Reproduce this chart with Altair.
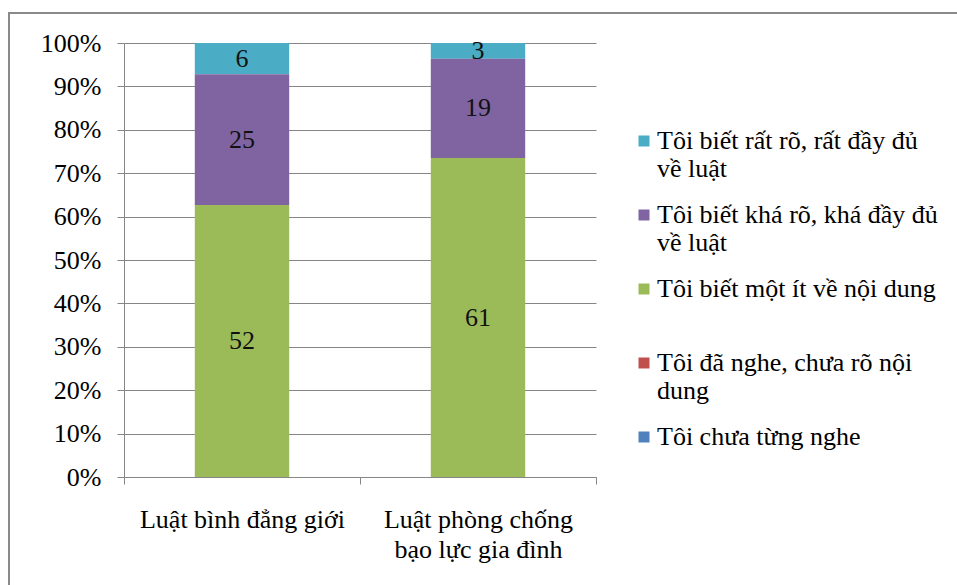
import altair as alt
import pandas as pd

# Awareness levels, listed top to bottom as in the legend
levels = [
    "Tôi biết rất rõ, rất đầy đủ\nvề luật",
    "Tôi biết khá rõ, khá đầy đủ\nvề luật",
    "Tôi biết một ít về nội dung",
    "Tôi đã nghe, chưa rõ nội\ndung",
    "Tôi chưa từng nghe",
]
level_colors = ["#4BACC6", "#8064A2", "#9BBB59", "#C0504D", "#4F81BD"]

laws = ["Luật bình đẳng giới", "Luật phòng chống\nbạo lực gia đình"]

# Counts per level (same order as `levels`)
gender_equality = [6, 25, 52, 0, 0]
domestic_violence = [3, 19, 61, 0, 0]

rows = []
for law, counts in zip(laws, [gender_equality, domestic_violence]):
    for rank, (lvl, n) in enumerate(zip(levels, counts)):
        rows.append({"law": law, "level": lvl, "rank": rank, "count": n})
df = pd.DataFrame(rows)

FONT = "Liberation Serif"
GRID = "#868686"

base = alt.Chart(df).transform_stack(
    stack="count",
    groupby=["law"],
    as_=["v0", "v1"],
    offset="normalize",
    sort=[alt.SortField("rank", order="descending")],
).transform_calculate(mid="(datum.v0 + datum.v1) / 2")

x_enc = alt.X(
    "law:N",
    sort=laws,
    title=None,
    scale=alt.Scale(paddingInner=0, paddingOuter=0),
    axis=alt.Axis(
        labelAngle=0,
        labelExpr="split(datum.label, '\\n')",
        labelFont=FONT,
        labelFontSize=26,
        labelColor="#000000",
        labelLineHeight=30,
        labelBaseline="top",
        labelPadding=22,
        tickBand="extent",
        tickSize=7,
        tickColor=GRID,
        domainColor=GRID,
        grid=False,
        labelLimit=400,
    ),
)

bars = base.mark_bar(width=alt.RelativeBandSize(0.4)).encode(
    x=x_enc,
    y=alt.Y(
        "v0:Q",
        title=None,
        scale=alt.Scale(domain=[0, 1]),
        axis=alt.Axis(
            format="%",
            values=[i / 10 for i in range(11)],
            labelFont=FONT,
            labelFontSize=26,
            labelColor="#000000",
            labelPadding=16,
            tickSize=7,
            tickColor=GRID,
            domainColor=GRID,
            gridColor=GRID,
            gridWidth=1,
        ),
    ),
    y2="v1:Q",
    color=alt.Color(
        "level:N",
        scale=alt.Scale(domain=levels, range=level_colors),
        legend=alt.Legend(
            title=None,
            orient="none",
            legendX=503,
            legendY=85,
            padding=0,
            symbolType="square",
            symbolSize=121,
            symbolStrokeWidth=0,
            symbolOffset=4,
            labelOffset=0,
            labelFont=FONT,
            labelFontSize=26,
            labelColor="#000000",
            labelBaseline="middle",
            labelLimit=400,
            labelExpr="split(datum.label, '\\n')",
            gridAlign="all",
            rowPadding=20,
        ),
    ),
)

labels = base.transform_filter("datum.count > 0").mark_text(
    font=FONT, fontSize=26, color="#111111", baseline="middle"
).encode(
    x=alt.X("law:N", sort=laws),
    y=alt.Y("mid:Q"),
    text="count:Q",
)

# Chart-area frame
frame = alt.Chart(df).mark_rect(
    fill="transparent", stroke="#8a8a8a", strokeWidth=2
).encode(
    x=alt.value(-115), x2=alt.value(900), y=alt.value(-30), y2=alt.value(700)
)

chart = alt.layer(frame, bars, labels).properties(
    width=472,
    height=434,
    padding={"left": 124, "top": 43, "right": 361, "bottom": 108},
    autosize=alt.AutoSizeParams(type="none"),
    background="white",
).configure_view(stroke="transparent")

chart.save("out.html", embed_options={"renderer": "svg", "actions": False})
